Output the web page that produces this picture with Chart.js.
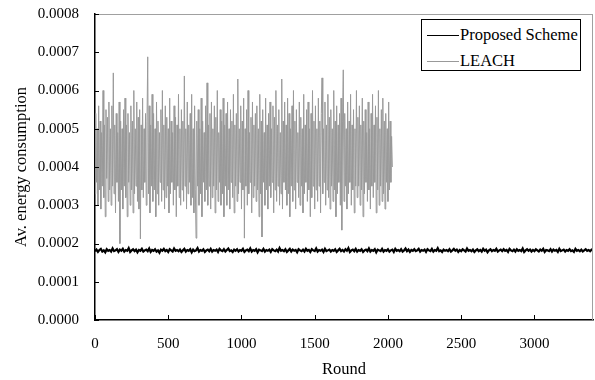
<!DOCTYPE html>
<html>
<head>
<meta charset="utf-8">
<script src="https://cdn.jsdelivr.net/npm/chart.js@4.4.1/dist/chart.umd.min.js"></script>
<style>
  html, body { margin: 0; padding: 0; background: #fff; }
  #caja { position: relative; width: 595px; height: 380px; }
  #leyenda {
    position: absolute; left: 421px; top: 19px; width: 160px; height: 52px;
    border: 1px solid #000; background: #fff; box-sizing: border-box;
    font-family: "Liberation Serif", serif; font-size: 16.5px; color: #000;
  }
  .item { position: absolute; left: 0; height: 18px; line-height: 18px; white-space: nowrap; }
  .item span.linea { position: absolute; left: 5px; top: 9px; width: 32px; height: 0; }
  .item span.texto { position: absolute; left: 38px; top: 0; }
</style>
</head>
<body>
<div id="caja">
  <canvas id="grafica" width="595" height="380"></canvas>
  <div id="leyenda"></div>
</div>
<script>
// Valores, en unidades de 1e-6 (energía media)
// LEACH: una muestra cada 5 rondas, de 0 a 2030
const leachValores = [
  330, 540, 360, 500, 300, 560, 340, 520, 290, 490, 350, 600, 320, 510, 270, 550, 370, 530, 310, 570,
  340, 500, 300, 560, 350, 646, 330, 510, 280, 540, 360, 490, 310, 570, 200, 520, 340, 500, 290, 550,
  350, 580, 320, 510, 270, 540, 360, 490, 300, 560, 340, 520, 280, 600, 330, 500, 350, 570, 310, 530,
  290, 550, 212, 510, 340, 580, 320, 500, 360, 540, 300, 520, 688, 330, 560, 280, 510, 350, 590, 310,
  540, 340, 500, 270, 570, 330, 520, 300, 490, 360, 550, 310, 600, 340, 510, 290, 560, 320, 530, 350,
  500, 280, 580, 330, 520, 360, 490, 300, 560, 340, 530, 270, 510, 350, 590, 320, 500, 300, 550, 340,
  520, 310, 638, 350, 500, 290, 570, 330, 510, 360, 540, 300, 590, 320, 500, 280, 560, 340, 214, 520,
  350, 550, 300, 500, 330, 580, 270, 520, 360, 490, 310, 560, 340, 620, 300, 510, 350, 540, 290, 570,
  320, 500, 350, 560, 280, 530, 340, 600, 310, 490, 360, 550, 300, 520, 330, 580, 270, 510, 350, 540,
  300, 570, 340, 500, 290, 550, 360, 520, 320, 590, 280, 510, 350, 540, 310, 630, 330, 500, 360, 560,
  290, 520, 340, 580, 214, 500, 350, 550, 300, 600, 330, 490, 360, 530, 280, 570, 320, 510, 350, 540,
  310, 560, 340, 500, 270, 590, 330, 520, 217, 550, 360, 490, 300, 580, 340, 510, 290, 540, 350, 570,
  320, 500, 360, 560, 280, 530, 340, 600, 310, 510, 350, 550, 300, 490, 330, 630, 290, 520, 360, 570,
  340, 510, 300, 580, 330, 540, 270, 500, 350, 560, 310, 600, 340, 520, 290, 550, 360, 490, 320, 570,
  300, 530, 350, 500, 280, 590, 330, 510, 360, 550, 310, 570, 340, 500, 270, 540, 320, 600, 350, 520,
  290, 560, 340, 500, 310, 580, 350, 520, 280, 540, 633, 330, 500, 360, 570, 300, 510, 340, 590, 320,
  530, 290, 550, 350, 500, 310, 600, 340, 520, 270, 560, 330, 510, 360, 540, 300, 580, 235, 520, 654,
  310, 540, 350, 500, 290, 570, 330, 520, 360, 590, 300, 510, 340, 550, 280, 500, 350, 600, 320, 530,
  350, 560, 300, 510, 340, 580, 270, 520, 330, 550, 360, 490, 310, 570, 340, 500, 290, 540, 350, 590,
  320, 510, 360, 560, 280, 530, 340, 600, 300, 500, 350, 550, 310, 580, 330, 520, 290, 540, 360, 500,
  310, 570, 340, 520, 360, 480, 400
];

// Esquema propuesto: una muestra cada 10 rondas, de 0 a 3400
const propuestoValores = [
  180, 184, 178, 183, 186, 179, 182, 177, 185, 181, 183, 179, 187, 180, 182, 185, 178, 184, 181, 186,
  179, 183, 181, 188, 178, 182, 185, 180, 184, 177, 183, 181, 186, 179, 182, 184, 180, 187, 178, 183,
  181, 185, 179, 182, 176, 184, 181, 186, 180, 183, 178, 185, 182, 179, 187, 181, 183, 180, 184, 178,
  182, 186, 179, 183, 181, 185, 177, 184, 180, 182, 188, 179, 183, 181, 185, 178, 182, 184, 180, 186,
  179, 183, 181, 184, 178, 186, 182, 180, 185, 179, 183, 187, 180, 182, 178, 184, 181, 185, 179, 183,
  181, 186, 178, 182, 184, 180, 187, 179, 183, 181, 185, 177, 184, 182, 180, 186, 179, 183, 181, 184,
  178, 185, 182, 180, 184, 179, 188, 181, 183, 180, 185, 178, 182, 186, 179, 184, 181, 183, 177, 185,
  182, 180, 184, 179, 186, 181, 183, 178, 185, 182, 180, 187, 179, 183, 181, 184, 178, 186, 180, 182,
  184, 179, 183, 181, 185, 178, 182, 186, 180, 183, 179, 185, 181, 188, 178, 182, 184, 180, 186, 179,
  183, 181, 185, 178, 182, 184, 180, 187, 179, 183, 181, 185, 177, 184, 182, 180, 186, 179, 183, 181,
  185, 179, 182, 184, 178, 186, 181, 183, 180, 185, 179, 182, 187, 180, 184, 178, 183, 181, 185, 180,
  182, 186, 179, 183, 181, 184, 178, 185, 182, 180, 186, 179, 183, 181, 188, 180, 182, 178, 184, 181,
  183, 180, 185, 179, 182, 186, 181, 184, 178, 183, 180, 185, 182, 179, 187, 181, 183, 180, 184, 178,
  182, 185, 180, 183, 179, 186, 181, 184, 177, 182, 185, 180, 183, 181, 186, 179, 182, 184, 180, 185,
  181, 183, 178, 186, 182, 180, 184, 179, 185, 181, 183, 180, 187, 178, 182, 185, 181, 184, 179, 183,
  180, 185, 182, 179, 184, 181, 186, 178, 183, 182, 180, 185, 179, 184, 181, 183, 178, 186, 180, 182,
  184, 179, 183, 181, 185, 180, 182, 178, 186, 181, 183, 180, 184, 179, 182, 185, 181, 183, 180, 184,
  182
];

const pasoLeach = 5;        // rondas entre muestras
const pasoPropuesto = 10;
const ticksX = [0, 500, 1000, 1500, 2000, 2500, 3000];
const maxRonda = 3400;
const maxY = 0.0008;
const pasoY = 0.0001;

const SERIES = [
  { nombre: "Proposed Scheme", valores: propuestoValores, paso: pasoPropuesto, color: "#000000", ancho: 2.2 },
  { nombre: "LEACH", valores: leachValores, paso: pasoLeach, color: "#999999", ancho: 1 }
];

const fuente = '"Liberation Serif", "Times New Roman", serif';
Chart.defaults.font.family = fuente;
Chart.defaults.font.size = 15;
Chart.defaults.color = "#000";

// Marco gris arriba/derecha y marcas de eje hacia dentro
const marcoPlugin = {
  id: "marco",
  afterDatasetsDraw(chart) {
    const { ctx, chartArea: a, scales: { x, y } } = chart;
    ctx.save();
    ctx.lineWidth = 1;
    ctx.strokeStyle = "#a0a0a0";
    ctx.beginPath();
    ctx.moveTo(a.left, a.top + 0.5); ctx.lineTo(a.right, a.top + 0.5);
    ctx.moveTo(a.right - 0.5, a.top); ctx.lineTo(a.right - 0.5, a.bottom);
    ctx.stroke();
    ctx.strokeStyle = "#000";
    ctx.beginPath();
    y.ticks.forEach(t => {
      const py = Math.round(y.getPixelForValue(t.value)) + 0.5;
      ctx.moveTo(a.left, py); ctx.lineTo(a.left + 4, py);
    });
    x.ticks.forEach(t => {
      const px = Math.round(x.getPixelForValue(t.value)) + 0.5;
      ctx.moveTo(px, a.bottom); ctx.lineTo(px, a.bottom - 5);
    });
    ctx.stroke();
    ctx.restore();
  }
};

const datasets = SERIES.map(s => ({
  label: s.nombre,
  data: s.valores.map((v, i) => ({ x: i * s.paso, y: v / 1e6 })),
  borderColor: s.color,
  borderWidth: s.ancho,
  pointRadius: 0,
  tension: 0,
  fill: false
}));

new Chart(document.getElementById("grafica"), {
  type: "line",
  data: { datasets },
  options: {
    responsive: false,
    animation: false,
    devicePixelRatio: 1,
    layout: { padding: { top: 14, right: 2, left: 0, bottom: 0 } },
    plugins: { legend: { display: false }, tooltip: { enabled: false } },
    scales: {
      x: {
        type: "linear",
        min: 0, max: maxRonda,
        grid: { display: false, drawTicks: false },
        border: { display: true, color: "#000", width: 1.5 },
        afterBuildTicks: s => { s.ticks = ticksX.map(v => ({ value: v })); },
        ticks: { padding: 15, maxRotation: 0, autoSkip: false, callback: v => String(v) },
        title: { display: true, text: "Round", font: { size: 16.5 }, padding: { top: 2, bottom: 0 } },
        afterFit: s => { s.height = 60; }
      },
      y: {
        min: 0, max: maxY,
        grid: { display: false, drawTicks: false },
        border: { display: true, color: "#000", width: 1.5 },
        ticks: { stepSize: pasoY, padding: 16, callback: v => Number(v).toFixed(4) },
        title: { display: true, text: "Av. energy consumption", font: { size: 16.5 }, padding: { top: 12, bottom: 4 } },
        afterFit: s => { s.width = 95; s.paddingTop = 0; s.paddingBottom = 0; }
      }
    }
  },
  plugins: [marcoPlugin]
});

// Leyenda en HTML, dentro del área de trazado
const leyenda = document.getElementById("leyenda");
leyenda.innerHTML = SERIES.map((s, i) => `
  <div class="item" style="top:${6 + i * 26}px">
    <span class="linea" style="border-top:1px solid ${s.color}"></span>
    <span class="texto">${s.nombre}</span>
  </div>`).join("");
</script>
</body>
</html>
